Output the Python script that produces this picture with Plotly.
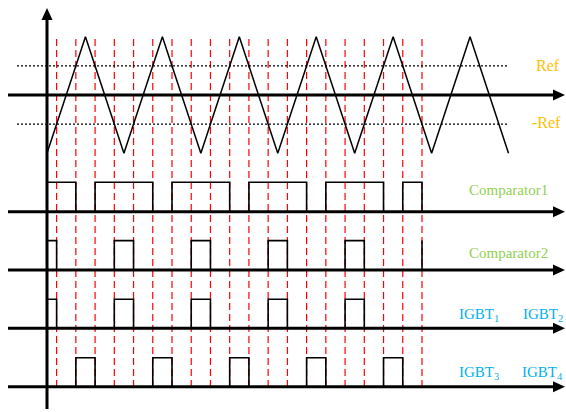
import plotly.graph_objects as go

# ---------------- data (time in half-periods of the carrier) ----------------
carrier_t = [0, 1, 2, 3, 4, 5, 6, 7, 8, 9, 10, 11, 12]
carrier_v = [-1, 1, -1, 1, -1, 1, -1, 1, -1, 1, -1, 1, -1]
ref_level = 0.5
ref_t = [-0.78, 12.0]
switch_t = [0.25, 0.75, 1.25, 1.75, 2.25, 2.75, 3.25, 3.75, 4.25, 4.75,
            5.25, 5.75, 6.25, 6.75, 7.25, 7.75, 8.25, 8.75, 9.25, 9.75]
comp1_pulses = [(0, 0.75), (1.25, 2.75), (3.25, 4.75), (5.25, 6.75), (7.25, 8.75), (9.25, 9.75)]
comp2_pulses = [(0, 0.25), (1.75, 2.25), (3.75, 4.25), (5.75, 6.25), (7.75, 8.25), (9.75, 9.75)]
igbt12_pulses = [(0, 0.25), (1.75, 2.25), (3.75, 4.25), (5.75, 6.25), (7.75, 8.25)]
igbt34_pulses = [(0.75, 1.25), (2.75, 3.25), (4.75, 5.25), (6.75, 7.25), (8.75, 9.25)]

# ---------------- layout geometry ----------------
W, H = 566, 412
X0_PX, PX_PER_T = 47, 38.46
AXIS_LEFT_PX, AXIS_RIGHT_PX = 8, 565

FONT = "Times New Roman, Liberation Serif, serif"
GOLD, GREEN, BLUE = "#FFC000", "#92D050", "#00B0F0"


def pulses_xy(pulses):
    xs, ys = [], []
    for a, b in pulses:
        xs += [a, a, b, b]
        ys += [0, 1, 1, 0]
    return xs, ys


def yrange(base_px, unit_px):
    return [(base_px - H) / unit_px, base_px / unit_px]


def px(x):
    return x / W


def py(y):
    return 1 - y / H


fig = go.Figure()

# reference levels (dotted)
for lvl in (ref_level, -ref_level):
    fig.add_trace(go.Scatter(x=ref_t, y=[lvl, lvl], mode="lines",
                             line=dict(color="black", width=1.4, dash="2px,2px"),
                             yaxis="y", hoverinfo="skip"))
# carrier
fig.add_trace(go.Scatter(x=carrier_t, y=carrier_v, mode="lines",
                         line=dict(color="black", width=1.5), yaxis="y", hoverinfo="skip"))

signals = [
    (comp1_pulses, "y2", 211.7, 29.4),
    (comp2_pulses, "y3", 270.0, 29.4),
    (igbt12_pulses, "y4", 328.3, 29.0),
    (igbt34_pulses, "y5", 386.7, 29.0),
]
for pulses, yax, _, _ in signals:
    xs, ys = pulses_xy(pulses)
    fig.add_trace(go.Scatter(x=xs, y=ys, mode="lines",
                             line=dict(color="black", width=1.6), yaxis=yax, hoverinfo="skip"))

shapes = []
# red dashed switching instants
for t in switch_t:
    shapes.append(dict(type="line", xref="x", yref="paper", x0=t, x1=t,
                       y0=py(387), y1=py(35), layer="below",
                       line=dict(color="#FF0000", width=1.2, dash="7px,4px")))

# horizontal axes with arrowheads
axis_rows = [95.0] + [s[2] for s in signals]
for yb in axis_rows:
    shapes.append(dict(type="line", xref="paper", yref="paper",
                       x0=px(AXIS_LEFT_PX), x1=px(AXIS_RIGHT_PX - 6), y0=py(yb), y1=py(yb),
                       line=dict(color="black", width=3)))
    shapes.append(dict(type="path", xref="paper", yref="paper",
                       path=f"M {px(AXIS_RIGHT_PX)} {py(yb)} L {px(AXIS_RIGHT_PX - 12)} {py(yb - 5.5)} "
                            f"L {px(AXIS_RIGHT_PX - 12)} {py(yb + 5.5)} Z",
                       fillcolor="black", line=dict(color="black", width=0)))
# vertical axis with arrowhead
shapes.append(dict(type="line", xref="paper", yref="paper",
                   x0=px(X0_PX), x1=px(X0_PX), y0=py(409), y1=py(14),
                   line=dict(color="black", width=3)))
shapes.append(dict(type="path", xref="paper", yref="paper",
                   path=f"M {px(X0_PX)} {py(8)} L {px(X0_PX - 5.5)} {py(20)} L {px(X0_PX + 5.5)} {py(20)} Z",
                   fillcolor="black", line=dict(color="black", width=0)))

annotations = [
    dict(text="Ref", x=px(548), y=py(65), color=GOLD, size=16, xanchor="center"),
    dict(text="-Ref", x=px(546), y=py(123), color=GOLD, size=16, xanchor="center"),
    dict(text="Comparator1", x=px(508), y=py(190), color=GREEN, size=15, xanchor="center"),
    dict(text="Comparator2", x=px(508), y=py(253), color=GREEN, size=15, xanchor="center"),
    dict(text="IGBT<sub>1</sub>", x=px(457), y=py(315), color=BLUE, size=15, xanchor="left"),
    dict(text="IGBT<sub>2</sub>", x=px(565), y=py(315), color=BLUE, size=15, xanchor="right"),
    dict(text="IGBT<sub>3</sub>", x=px(457), y=py(373), color=BLUE, size=15, xanchor="left"),
    dict(text="IGBT<sub>4</sub>", x=px(565), y=py(373), color=BLUE, size=15, xanchor="right"),
]
ann = [dict(text=a["text"], x=a["x"], y=a["y"], xref="paper", yref="paper",
            xanchor=a["xanchor"], yanchor="middle", showarrow=False,
            font=dict(family=FONT, size=a["size"], color=a["color"])) for a in annotations]

hidden = dict(visible=False, showgrid=False, zeroline=False, fixedrange=True)
layout = dict(
    width=W, height=H, margin=dict(l=0, r=0, t=0, b=0),
    paper_bgcolor="white", plot_bgcolor="white", showlegend=False,
    xaxis=dict(range=[-X0_PX / PX_PER_T, (W - X0_PX) / PX_PER_T], **hidden),
    yaxis=dict(range=yrange(95.0, 58.25), **hidden),
    shapes=shapes, annotations=ann,
)
for i, (_, yax, base, unit) in enumerate(signals):
    layout["yaxis" + yax[1:]] = dict(range=yrange(base, unit), overlaying="y", **hidden)

fig.update_layout(**layout)
fig.write_html("out.html", config={"displayModeBar": False},
               post_script="document.body.style.margin='0';document.body.style.overflow='hidden';")
